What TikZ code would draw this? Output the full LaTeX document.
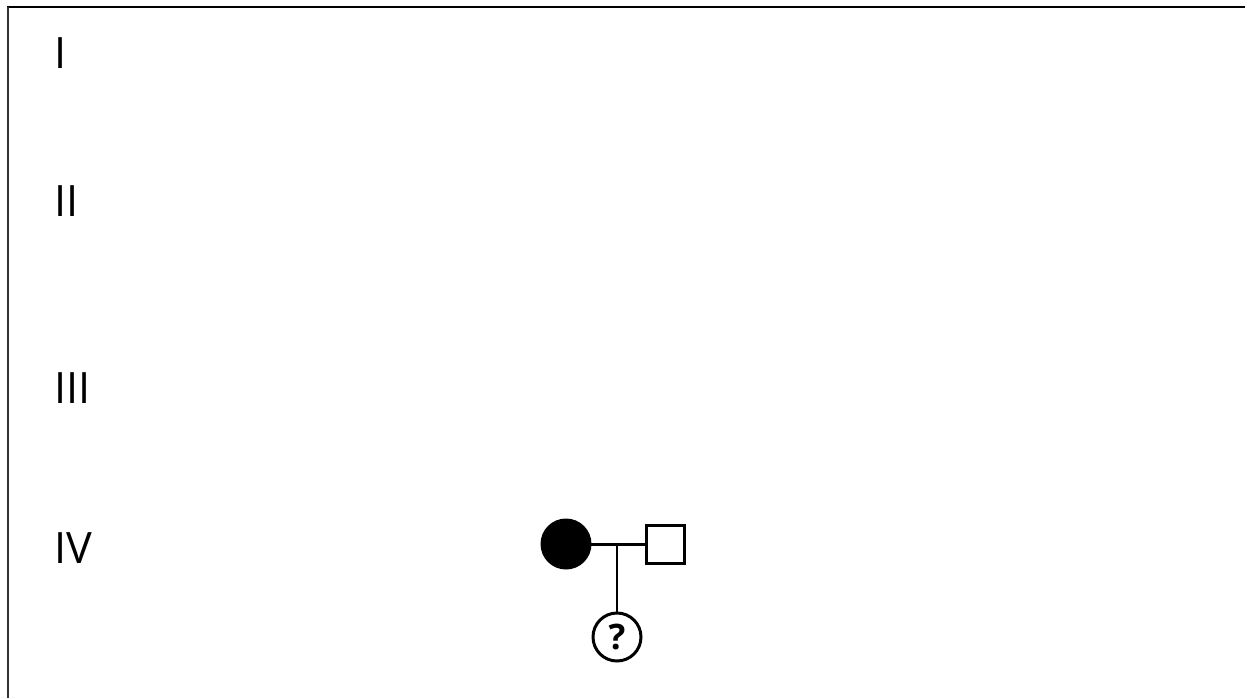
\documentclass[tikz,border=0pt]{standalone}
\usepackage{fontspec}
\setmainfont{Open Sans}
\usetikzlibrary{positioning}

\tikzset{
    gen/.style={anchor=west,inner sep=0pt,font=\fontsize{24.6}{28}\selectfont},
    female/.style={circle,draw,line width=1.7pt,minimum size=0.96cm,inner sep=0pt},
    affected/.style={female,fill=black},
    male/.style={rectangle,draw,line width=1.7pt,minimum size=0.76cm,inner sep=0pt},
    unknown/.style={female,font=\fontsize{20}{24}\selectfont\bfseries},
    mating/.style={line width=1.7pt}
}

\begin{document}
\begin{tikzpicture}[x=0.02cm,y=-0.02cm,node distance=1.08cm]
  \useasboundingbox (0,0) rectangle (1245,698);

  % frame lines (top and left only)
  \draw[line width=1.6pt] (7,7) -- (1245,7);
  \draw[line width=1.2pt,black!80] (8,7) -- (8,698);

  % generation labels
  \node[gen] (g1) at (54,53) {I};
  \node[gen] (g2) at (54,201) {II};
  \node[gen] (g3) at (54,388) {III};
  \node[gen] (g4) at (54,548) {IV};

  % generation IV couple
  \node[affected] (mother) at (566,544) {};
  \node[male,right=of mother] (father) {};

  % child of unknown status
  \node[unknown] (child) at (617,637) {?};

  \draw[mating] (mother.east) -- (father.west);
  \draw[mating] (child.north |- mother.east) -- (child.north);
\end{tikzpicture}
\end{document}
